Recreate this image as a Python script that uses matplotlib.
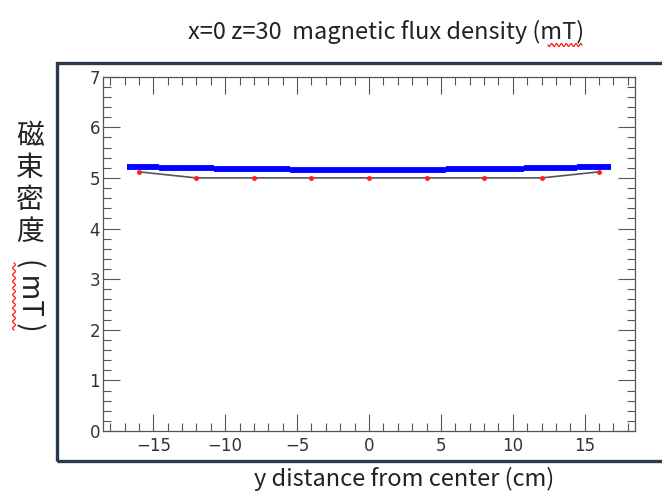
import numpy as np
import matplotlib.pyplot as plt
from matplotlib.patches import Rectangle
from matplotlib.lines import Line2D
from matplotlib.ticker import MultipleLocator

# blue: measured field, constant over steps along y
blue_edges = [-16.8, -14.6, -10.8, -5.5, 5.35, 10.8, 14.5, 16.8]
blue_levels = [5.22, 5.19, 5.17, 5.15, 5.17, 5.19, 5.22]

# red points: simulation at every 4 cm
red_y = [-16, -12, -8, -4, 0, 4, 8, 12, 16]
red_b = [5.12, 5.0, 5.0, 5.0, 5.0, 5.0, 5.0, 5.0, 5.12]

W, H = 662, 493
fig = plt.figure(figsize=(W / 100, H / 100), dpi=100)

# dark slide frame around the plot
fig.patches.append(Rectangle((57 / W, 1 - 461 / H), 1.0, (461 - 63) / H,
                             transform=fig.transFigure, fill=False,
                             edgecolor='#2b3a4f', lw=2.4))

ax = fig.add_axes([103 / W, 1 - 431 / H, (635 - 103) / W, (431 - 76.7) / H])
ax.set_xlim(-18.5, 18.5)
ax.set_ylim(0, 7)

# blue step band
for i in range(len(blue_levels)):
    ax.plot([blue_edges[i], blue_edges[i + 1]], [blue_levels[i], blue_levels[i]],
            color='#0000ff', lw=4.2, solid_capstyle='butt')

ax.plot(red_y, red_b, color='#555555', lw=1.2)
ax.plot(red_y, red_b, 'o', color='#ff2020', ms=3.6, mew=0)

# ROOT style ticks on all sides
ax.xaxis.set_major_locator(MultipleLocator(5))
ax.xaxis.set_minor_locator(MultipleLocator(1))
ax.yaxis.set_major_locator(MultipleLocator(1))
ax.yaxis.set_minor_locator(MultipleLocator(0.2))
ax.tick_params(which='both', direction='in', top=True, right=True,
               color='#555555', width=0.8)
ax.tick_params(which='major', length=12)
ax.tick_params(which='minor', length=6)
ax.tick_params(axis='x', pad=4)
ax.tick_params(axis='y', pad=2)
for s in ax.spines.values():
    s.set_color('#555555')
    s.set_linewidth(0.9)
for lab in ax.get_xticklabels() + ax.get_yticklabels():
    lab.set_family(['Liberation Sans Narrow', 'DejaVu Sans'])
    lab.set_fontsize(12)
    lab.set_color('#333333')

jp = ['Noto Sans CJK JP', 'DejaVu Sans']
fig.text(386 / W, 1 - 32 / H, 'x=0 z=30  magnetic flux density (mT)',
         ha='center', va='center', family=jp, fontsize=17, color='#222222')
fig.text(404 / W, 1 - 479 / H, 'y distance from center (cm)',
         ha='center', va='center', family=jp, fontsize=17, color='#222222')

# vertical y label: upright kanji, then the unit turned sideways
fig.text(30 / W, 1 - 184 / H, '磁\n束\n密\n度', ha='center', va='center',
         family=jp, fontsize=20, color='#222222', linespacing=1.10)
fig.text(30 / W, 1 - 295 / H, '( mT )', ha='center', va='center', rotation=-90,
         family=jp, fontsize=20, color='#222222')

# spell-check squiggles
t = np.linspace(0, 1, 60)
fig.add_artist(Line2D((548 + 34 * t) / W, 1 - (45 + 1.5 * np.sin(t * 14 * np.pi)) / H,
                      transform=fig.transFigure, color='red', lw=0.8))
fig.add_artist(Line2D((14 + 1.5 * np.sin(t * 20 * np.pi)) / W, 1 - (263 + 67 * t) / H,
                      transform=fig.transFigure, color='red', lw=0.8))

fig.savefig('out.png', dpi=100)
